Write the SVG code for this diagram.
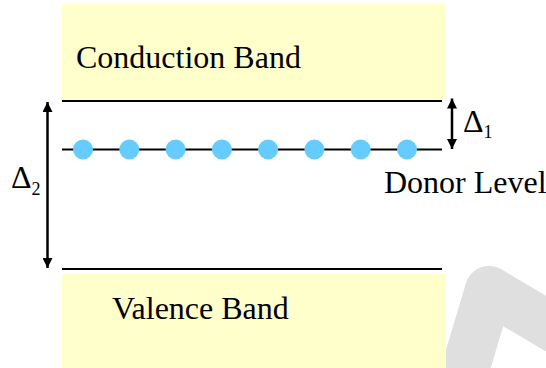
<svg xmlns="http://www.w3.org/2000/svg" width="546" height="368" viewBox="0 0 546 368">
<style>
.band{fill:#ffffcc;}
.lvl{stroke:#000;stroke-width:2;fill:none;}
.dot{fill:#66ccff;}
text{font-family:'Liberation Serif','Times New Roman','DejaVu Serif',serif;fill:#000;}
.lbl{font-size:32px;}
.dl{font-size:32px;}
.sub{font-size:18px;}
.arr{stroke:#000;stroke-width:2.5;fill:none;}
</style>
<defs>
<marker id="ah" viewBox="0 0 10 10" refX="10" refY="5" markerWidth="10" markerHeight="10" markerUnits="userSpaceOnUse" orient="auto-start-reverse">
<path d="M0,0 L10,5 L0,10 Z" fill="#000"/>
</marker>
</defs>
<polyline points="456,400 489,290 560,332" fill="none" stroke="#dfdfdf" stroke-width="48" stroke-linejoin="round"/>
<g id="conduction-band">
<rect class="band" x="62" y="4" width="384" height="95"/>
<text class="lbl" x="76" y="68" font-family="Liberation Serif, serif">Conduction Band</text>
</g>
<g id="valence-band">
<rect class="band" x="62" y="274" width="384" height="94"/>
<text class="lbl" x="112" y="319" font-family="Liberation Serif, serif">Valence Band</text>
</g>
<g id="levels">
<line class="lvl" x1="62" y1="101" x2="442" y2="101"/>
<line class="lvl" x1="62" y1="149.5" x2="442" y2="149.5"/>
<line class="lvl" x1="62" y1="269" x2="442" y2="269"/>
</g>
<g id="donor-level">
<circle class="dot" cx="83" cy="149.5" r="10"/>
<circle class="dot" cx="129.3" cy="149.5" r="10"/>
<circle class="dot" cx="175.6" cy="149.5" r="10"/>
<circle class="dot" cx="221.9" cy="149.5" r="10"/>
<circle class="dot" cx="268.1" cy="149.5" r="10"/>
<circle class="dot" cx="314.4" cy="149.5" r="10"/>
<circle class="dot" cx="360.7" cy="149.5" r="10"/>
<circle class="dot" cx="407" cy="149.5" r="10"/>
<text class="lbl" x="384" y="193" font-family="Liberation Serif, serif">Donor Level</text>
</g>
<g id="connectors">
<line class="arr" x1="47.5" y1="102" x2="47.5" y2="268" marker-start="url(#ah)" marker-end="url(#ah)"/>
<line class="arr" x1="452" y1="98.5" x2="452" y2="149" marker-start="url(#ah)" marker-end="url(#ah)"/>
</g>
<g id="delta2">
<text class="dl" x="11" y="188" font-family="Liberation Serif, serif">Δ<tspan class="sub" dy="7">2</tspan></text>
</g>
<g id="delta1">
<text class="dl" x="463" y="132" font-family="Liberation Serif, serif">Δ<tspan class="sub" dy="6">1</tspan></text>
</g>
</svg>
